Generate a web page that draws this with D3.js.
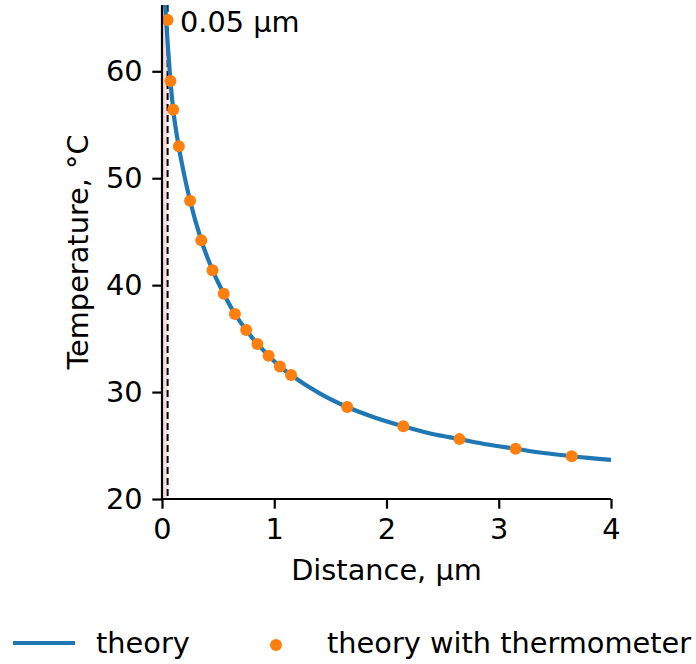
<!DOCTYPE html>
<html>
<head>
<meta charset="utf-8">
<script src="https://cdn.jsdelivr.net/npm/d3@7"></script>
<style>
  body { margin: 0; background: #fff; }
  text { font-family: 'DejaVu Sans', sans-serif; fill: #000; }
</style>
</head>
<body>
<svg id="chart"></svg>
<script>
// theory curve
const theoryX = [0, 0.025, 0.05, 0.075, 0.1, 0.15, 0.2, 0.25, 0.35, 0.45, 0.55, 0.65, 0.75, 0.85,
  0.95, 1.05, 1.15, 1.4, 1.65, 1.9, 2.15, 2.4, 2.65, 2.9, 3.15, 3.4, 3.65, 4.0];
const theoryT = [71, 66.8, 62.7, 59.1, 56.4, 52.9, 50.2, 47.9, 44.2, 41.4, 39.2, 37.3, 35.8, 34.5,
  33.4, 32.4, 31.6, 29.9, 28.6, 27.6, 26.8, 26.1, 25.6, 25.1, 24.7, 24.3, 24.0, 23.65];

// theory with thermometer
const thermoX = [0.05, 0.075, 0.1, 0.15, 0.25, 0.35, 0.45, 0.55, 0.65, 0.75, 0.85, 0.95, 1.05, 1.15,
  1.65, 2.15, 2.65, 3.15, 3.65];
const thermoT = [64.8, 59.1, 56.4, 53.0, 47.9, 44.2, 41.4, 39.2, 37.3, 35.8, 34.5, 33.4, 32.4, 31.6,
  28.6, 26.8, 25.6, 24.7, 24.0];

const xTicks = [0, 1, 2, 3, 4];
const yTicks = [20, 30, 40, 50, 60];
const thermoPos = 0.05;

const w = 696;
const h = 664;
const m = { left: 162, right: 611, top: 5, bottom: 499 };
const fs = 28.8;
const blue = '#1f77b4';
const orange = '#ff7f0e';

const svg = d3.select('#chart').attr('width', w).attr('height', h);

const x = d3.scaleLinear().domain([0, 4]).range([m.left, m.right]);
const y = d3.scaleLinear().domain([20, 66.2]).range([m.bottom, m.top]);

svg.append('defs').append('clipPath').attr('id', 'clip')
  .append('rect')
  .attr('x', m.left).attr('y', m.top)
  .attr('width', m.right - m.left).attr('height', m.bottom - m.top);

const plot = svg.append('g').attr('clip-path', 'url(#clip)');

////////////////////////
//// SHADE + MARKER ////
////////////////////////

plot.append('rect')
  .attr('x', x(0))
  .attr('y', m.top)
  .attr('width', x(thermoPos) - x(0))
  .attr('height', m.bottom - m.top)
  .attr('fill', '#fbdcdc');

plot.append('line')
  .attr('x1', x(thermoPos)).attr('x2', x(thermoPos))
  .attr('y1', m.top).attr('y2', m.bottom)
  .attr('stroke', '#000')
  .attr('stroke-width', 2)
  .attr('stroke-dasharray', '7,4');

////////////////////////
/////// SERIES /////////
////////////////////////

const line = d3.line()
  .x((d, i) => x(theoryX[i]))
  .y((d) => y(d))
  .curve(d3.curveMonotoneX);

plot.append('path')
  .attr('d', line(theoryT))
  .attr('fill', 'none')
  .attr('stroke', blue)
  .attr('stroke-width', 4.2);

svg.append('g')
  .selectAll('circle')
  .data(thermoT)
  .enter()
  .append('circle')
  .attr('cx', (d, i) => x(thermoX[i]))
  .attr('cy', (d) => y(d))
  .attr('r', 6)
  .attr('fill', orange);

////////////////////////
//////// AXES //////////
////////////////////////

const xAxis = d3.axisBottom(x).tickValues(xTicks).tickFormat(d3.format('d'))
  .tickSize(9.7).tickPadding(9.7);
const yAxis = d3.axisLeft(y).tickValues(yTicks).tickFormat(d3.format('d'))
  .tickSize(9.7).tickPadding(9.7);

const gx = svg.append('g').attr('transform', `translate(0,${m.bottom})`).call(xAxis);
const gy = svg.append('g').attr('transform', `translate(${m.left},0)`).call(yAxis);

[gx, gy].forEach((g) => {
  g.select('.domain').remove();
  g.selectAll('.tick line').attr('stroke-width', 2.2);
  g.selectAll('.tick text').style('font-size', fs + 'px');
  g.attr('font-family', null).attr('font-size', null);
});

// spines as plain lines
svg.append('line')
  .attr('x1', m.left - 1.1).attr('x2', m.right)
  .attr('y1', m.bottom).attr('y2', m.bottom)
  .attr('stroke', '#000').attr('stroke-width', 2.2);
svg.append('line')
  .attr('x1', m.left).attr('x2', m.left)
  .attr('y1', m.top).attr('y2', m.bottom + 1.1)
  .attr('stroke', '#000').attr('stroke-width', 2.2);

svg.append('text')
  .attr('x', (m.left + m.right) / 2)
  .attr('y', 580)
  .attr('text-anchor', 'middle')
  .style('font-size', fs + 'px')
  .text('Distance, μm');

svg.append('text')
  .attr('transform', `translate(88,${(m.top + m.bottom) / 2}) rotate(-90)`)
  .attr('text-anchor', 'middle')
  .style('font-size', fs + 'px')
  .text('Temperature, °C');

svg.append('text')
  .attr('x', 180)
  .attr('y', 32)
  .style('font-size', fs + 'px')
  .text(thermoPos + ' μm');

////////////////////////
/////// LEGEND /////////
////////////////////////

const legend = svg.append('g');

legend.append('line')
  .attr('x1', 13).attr('x2', 75)
  .attr('y1', 643).attr('y2', 643)
  .attr('stroke', blue)
  .attr('stroke-width', 4.2);

legend.append('text')
  .attr('x', 96).attr('y', 653)
  .style('font-size', fs + 'px')
  .text('theory');

legend.append('circle')
  .attr('cx', 276).attr('cy', 645)
  .attr('r', 6)
  .attr('fill', orange);

legend.append('text')
  .attr('x', 327).attr('y', 653)
  .style('font-size', fs + 'px')
  .text('theory with thermometer');
</script>
</body>
</html>
